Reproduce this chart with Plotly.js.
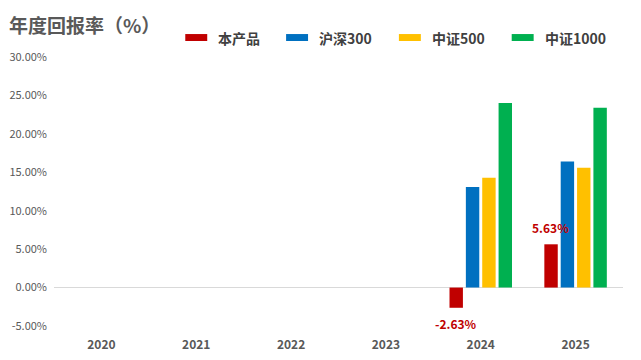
<!DOCTYPE html>
<html><head><meta charset="utf-8">
<script src="https://cdn.plot.ly/plotly-3.0.1.min.js"></script>
<style>html,body{margin:0;padding:0;background:#fff;}#chart{width:641px;height:360px;}</style>
</head><body><div id="chart"></div>
<script>
const years = ['2020','2021','2022','2023','2024','2025'];
const seriesNames = ['本产品','沪深300','中证500','中证1000'];
const product = [null, null, null, null, -2.63, 5.63];
const hs300 = [null, null, null, null, 13.1, 16.4];
const zz500 = [null, null, null, null, 14.3, 15.6];
const zz1000 = [null, null, null, null, 24.0, 23.4];
const productLabels = ['', '', '', '', '-2.63%', '5.63%'];
const yTickVals = [-5, 0, 5, 10, 15, 20, 25, 30];
const yTickText = ['-5.00%', '0.00%', '5.00%', '10.00%', '15.00%', '20.00%', '25.00%', '30.00%'];
const colors = ['#C00000', '#0070C0', '#FFC000', '#00B050'];

const FONT = '"Noto Sans CJK SC", "Microsoft YaHei", sans-serif';
const allSeries = [product, hs300, zz500, zz1000];
const traces = allSeries.map((vals, i) => ({
  type: 'bar', x: years, y: vals, name: seriesNames[i],
  marker: {color: colors[i]}, hoverinfo: 'skip', showlegend: false
}));

const L = 53.5, W = 570, B = 326.5, H = 269.5;
const px = v => (v - L) / W;
const py = v => (B - v) / H;
const shapes = [];
const annotations = [];

// data labels for 本产品, anchored to the data values through the axes
const catW = W / years.length;
const bargap = 0.31, groupgap = 0.18;
const slot = catW * (1 - bargap) / 4;
const redOffset = -catW * (1 - bargap) / 2 + slot / 2;
product.forEach((v, j) => {
  if (v === null || !productLabels[j]) return;
  annotations.push({xref: 'x', yref: 'y', x: j, y: v, showarrow: false,
    xshift: redOffset, yshift: v >= 0 ? 17 : -16, yanchor: 'middle', xanchor: 'center',
    text: productLabels[j], font: {family: FONT, size: 12, color: '#C00000', weight: 'bold'}});
});

// custom legend (wide swatches like reference)
const legendX = [185, 286, 399, 512];
seriesNames.forEach((n, i) => {
  shapes.push({type: 'rect', xref: 'paper', yref: 'paper',
    x0: px(legendX[i]), x1: px(legendX[i] + 22),
    y0: py(41), y1: py(34),
    fillcolor: colors[i], line: {width: 0}});
  annotations.push({xref: 'paper', yref: 'paper', showarrow: false,
    x: px(legendX[i] + 31), xanchor: 'left',
    y: py(37.5), yanchor: 'middle',
    text: n, font: {family: FONT, size: 14, color: '#404040', weight: 'bold'}});
});

const layout = {
  width: 641, height: 360,
  margin: {l: L, r: 641 - L - W, t: 57, b: 360 - B},
  paper_bgcolor: '#fff', plot_bgcolor: '#fff',
  title: {text: '年度回报率（%）', xref: 'container', yref: 'container',
    x: 9 / 641, xanchor: 'left', y: 1 - 26 / 360, yanchor: 'middle',
    font: {family: FONT, size: 19, color: '#595959', weight: 'bold'}},
  barmode: 'group', bargap: bargap, bargroupgap: groupgap,
  showlegend: false,
  xaxis: {type: 'category', categoryarray: years, categoryorder: 'array',
    range: [-0.5, years.length - 0.5], autorange: false,
    showgrid: false, showline: false, ticks: '', ticklabelstandoff: 10,
    tickfont: {family: FONT, size: 12, color: '#595959', weight: 'bold'}},
  yaxis: {range: [-5, 30], autorange: false, tickvals: yTickVals, ticktext: yTickText,
    showgrid: false, showline: false, zeroline: true, zerolinecolor: '#D9D9D9', zerolinewidth: 1,
    ticklabelstandoff: 6,
    tickfont: {family: FONT, size: 11, color: '#595959'}, ticklen: 0, ticks: ''},
  shapes: shapes,
  annotations: annotations,
  font: {family: FONT}
};
Plotly.newPlot('chart', traces, layout, {displayModeBar: false, staticPlot: true});
</script></body></html>
